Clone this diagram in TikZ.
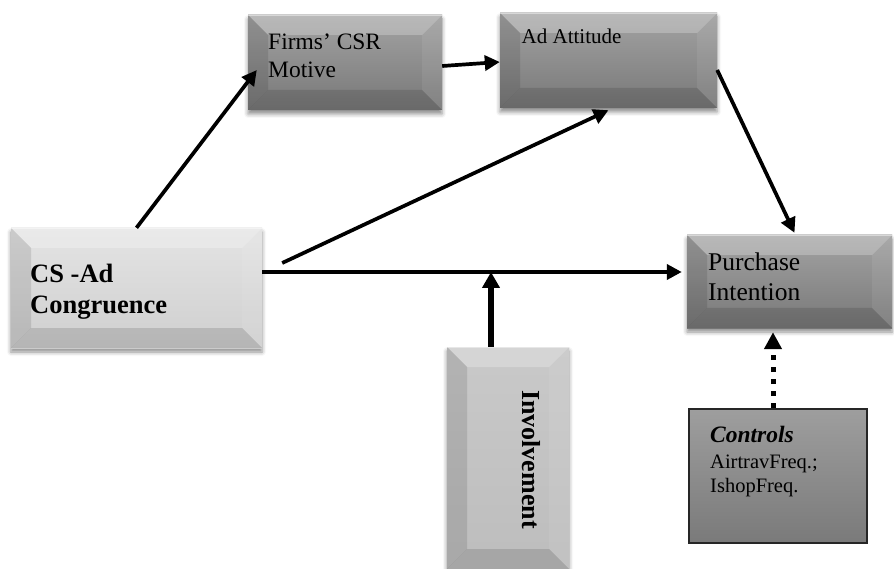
\documentclass[tikz,border=0pt]{standalone}
\usepackage{fontspec}
\setmainfont{Liberation Serif}
\usetikzlibrary{arrows.meta,shadows.blur,calc}

\tikzset{
  bev/.store in=\bevw, bev=20pt,
  bevelbox/.style 2 args={
    rectangle, draw=none, inner sep=0pt, top color=#1, bottom color=#2,
    blur shadow={shadow xshift=0pt, shadow yshift=-4pt,
                 shadow blur radius=4pt, shadow opacity=45},
    path picture={
      \path (path picture bounding box.north west) coordinate (bnw)
            (path picture bounding box.north east) coordinate (bne)
            (path picture bounding box.south west) coordinate (bsw)
            (path picture bounding box.south east) coordinate (bse);
      % top bevel
      \fill[white,opacity=0.24] (bnw) -- (bne) -- ([shift={(-\bevw,-\bevw)}]bne)
            -- ([shift={(\bevw,-\bevw)}]bnw) -- cycle;
      % left bevel
      \fill[black,opacity=0.11] (bnw) -- ([shift={(\bevw,-\bevw)}]bnw)
            -- ([shift={(\bevw,\bevw)}]bsw) -- (bsw) -- cycle;
      % right bevel
      \fill[white,opacity=0.07] (bne) -- ([shift={(-\bevw,-\bevw)}]bne)
            -- ([shift={(-\bevw,\bevw)}]bse) -- (bse) -- cycle;
      % bottom bevel
      \fill[black,opacity=0.12] (bsw) -- ([shift={(\bevw,\bevw)}]bsw)
            -- ([shift={(-\bevw,\bevw)}]bse) -- (bse) -- cycle;
      \draw[white,opacity=0.45,line width=1.2pt] (bnw) -- (bne);
    }},
  lbl/.style={inner sep=0pt, anchor=base west, text=black},
  arr/.style={line width=3.7pt, -{Triangle[length=15pt,width=15pt]}},
  thickarr/.style={line width=6pt, -{Triangle[length=16pt,width=17pt]}},
  dotarr/.style={line width=5pt, dash pattern=on 5pt off 7pt,
    -{Triangle[length=17pt,width=17pt]}},
}

\definecolor{midtop}{HTML}{A3A3A3}
\definecolor{midbot}{HTML}{787878}
\definecolor{lighttop}{HTML}{E4E4E4}
\definecolor{lightbot}{HTML}{CFCFCF}
\definecolor{invtop}{HTML}{C9C9C9}
\definecolor{invbot}{HTML}{BDBDBD}
\definecolor{ctrltop}{HTML}{9E9E9E}
\definecolor{ctrlbot}{HTML}{7A7A7A}

\begin{document}
\begin{tikzpicture}[x=1pt,y=-1pt]
  \useasboundingbox (0,0) rectangle (894,569);

  % boxes
  \node[bevelbox={midtop}{midbot}, minimum width=194pt, minimum height=95pt]
    (csr) at (345,62.5) {};
  \node[bevelbox={midtop}{midbot}, minimum width=217pt, minimum height=95pt]
    (att) at (608.5,60.5) {};
  \node[bevelbox={lighttop}{lightbot}, minimum width=251pt, minimum height=120pt]
    (cong) at (136.5,288) {};
  \node[bevelbox={midtop}{midbot}, minimum width=205pt, minimum height=93pt]
    (pi) at (789.5,281.5) {};
  \node[bevelbox={invtop}{invbot}, minimum width=122pt, minimum height=222pt]
    (inv) at (508,458) {};
  \node[rectangle, draw=black!85, line width=1.6pt, inner sep=0pt,
        top color=ctrltop, bottom color=ctrlbot,
        minimum width=178pt, minimum height=134pt]
    (ctrl) at (778,476) {};

  % labels
  \node[lbl, font=\fontsize{23.5}{28}\selectfont] (csr-a) at (268,50) {Firms’ CSR};
  \node[lbl, font=\fontsize{23.5}{28}\selectfont] (csr-b) at (268,78) {Motive};
  \node[lbl, font=\fontsize{21}{26}\selectfont] (att-a) at (521.5,44) {Ad Attitude};
  \node[lbl, font=\bfseries\fontsize{26.5}{30}\selectfont] (cong-a) at (30,283) {CS -Ad};
  \node[lbl, font=\bfseries\fontsize{26.5}{30}\selectfont] (cong-b) at (30,313) {Congruence};
  \node[lbl, font=\fontsize{25.5}{30}\selectfont] (pi-a) at (708,271) {Purchase};
  \node[lbl, font=\fontsize{25.5}{30}\selectfont] (pi-b) at (708,301) {Intention};
  \node[lbl, font=\bfseries\fontsize{26}{30}\selectfont, rotate=-90] (inv-a) at (522,390) {Involvement};
  \node[lbl, font=\bfseries\itshape\fontsize{23.5}{28}\selectfont] (ctrl-a) at (710,442) {Controls};
  \node[lbl, font=\fontsize{20.5}{25}\selectfont] (ctrl-b) at (710,468) {AirtravFreq.;};
  \node[lbl, font=\fontsize{20.5}{25}\selectfont] (ctrl-c) at (710,492) {IshopFreq.};

  % connectors
  \draw[arr] (cong.north) -- ([shift={(9pt,-7.5pt)}]csr.west);
  \draw[arr] ([yshift=-3.5pt]csr.east) -- ([yshift=-1.5pt]att.west);
  \draw[arr] ([shift={(20pt,25pt)}]cong.east) -- ([yshift=-2pt]att.south);
  \draw[arr] ([yshift=-9.5pt]att.east) -- ([shift={(5pt,2pt)}]pi.north);
  \coordinate (mid) at ([yshift=16pt]cong.east);
  \draw[arr] (mid) -- ([xshift=-5pt]mid -| pi.west);
  \coordinate (invtip) at ([xshift=-17pt]inv.north);
  \draw[thickarr] (invtip) -- (invtip |- mid);
  \coordinate (ctop) at ([xshift=-5pt]ctrl.north);
  \draw[dotarr] (ctop) -- ([yshift=-4pt]ctop |- pi.south);
\end{tikzpicture}
\end{document}
